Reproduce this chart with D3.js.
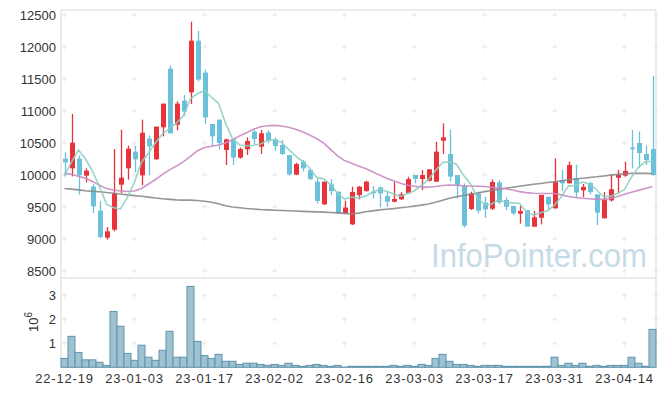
<!DOCTYPE html>
<html><head><meta charset="utf-8">
<script src="https://cdn.jsdelivr.net/npm/d3@7"></script>
<style>body{margin:0;background:#fff}svg{display:block}</style>
</head><body><svg id="c" width="665" height="396"></svg>
<script>
const dates = ["22-12-19","22-12-20","22-12-21","22-12-22","22-12-23","22-12-26","22-12-27","22-12-28","22-12-29",
"23-01-02","23-01-03","23-01-04","23-01-05","23-01-06","23-01-09","23-01-10","23-01-11","23-01-12","23-01-13","23-01-16","23-01-17","23-01-18","23-01-19","23-01-20","23-01-25","23-01-26","23-01-27","23-01-30","23-01-31",
"23-02-01","23-02-02","23-02-03","23-02-06","23-02-07","23-02-08","23-02-09","23-02-10","23-02-13","23-02-14","23-02-15","23-02-16","23-02-17","23-02-20","23-02-21","23-02-22","23-02-23","23-02-24","23-02-27","23-02-28",
"23-03-02","23-03-03","23-03-06","23-03-07","23-03-08","23-03-09","23-03-10","23-03-13","23-03-14","23-03-15","23-03-16","23-03-17","23-03-20","23-03-21","23-03-22","23-03-23","23-03-24","23-03-27","23-03-28","23-03-29","23-03-30","23-03-31",
"23-04-03","23-04-04","23-04-05","23-04-06","23-04-07","23-04-10","23-04-11","23-04-12","23-04-13","23-04-14","23-04-17","23-04-18","23-04-19","23-04-20"];

const openP = [10255,10104,10255,9990,9818,9443,9021,9146,9849,10104,
10365,9995,10568,10245,10745,11661,10786,11161,11292,12099,
11599,10797,10865,10391,10557,10271,10401,10677,10443,10667,
10557,10469,10312,10005,10208,10078,9896,9542,9854,9740,
9401,9229,9687,9750,9740,9807,9672,9583,9620,9714,
10000,9937,9911,9896,10536,10328,10000,9828,9469,9714,
9568,9474,9885,9609,9516,9396,9453,9193,9333,9661,
9479,9922,9870,9948,9760,9875,9698,9323,9604,9958,
9990,10430,10500,10328,10406];

const highP = [10354,10953,10307,10104,9859,9594,9188,10406,10708,10458,
10458,10864,10615,10760,11115,11708,11151,11250,12396,12250,
11646,10797,10865,10568,10578,10432,10589,10700,10703,10700,
10589,10547,10312,10193,10234,10089,9948,9896,9937,9740,
9599,9818,9828,9911,9828,9818,9740,9891,9734,9974,
10000,10078,10089,10521,10807,10710,10000,9870,9740,9740,
9661,9932,9922,9651,9516,9516,9453,9437,9688,9661,
10260,10078,10210,10160,9860,9896,9698,9735,10010,10078,
10208,10703,10680,10460,11547];

const lowP = [9979,9979,9693,9885,9406,9010,8990,9120,9719,9927,
10042,9839,9995,10240,10604,10651,10698,10917,11110,11463,
10797,10458,10396,10156,10156,10255,10312,10484,10328,10495,
10380,10312,9990,10000,10052,9922,9557,9531,9687,9401,
9401,9219,9620,9740,9635,9495,9505,9573,9609,9714,
9870,9766,9900,9896,10328,9896,9635,9182,9453,9401,
9333,9453,9547,9453,9375,9240,9193,9193,9229,9445,
9479,9750,9870,9650,9655,9698,9219,9323,9583,9714,
9974,10104,10115,10156,9990];

const closeP = [10198,10505,9995,10068,9510,9031,9120,9714,9958,10411,
10245,10661,10448,10755,11115,10651,11115,10990,12099,11490,
10901,10604,10500,10557,10271,10406,10531,10562,10651,10547,
10453,10328,10010,10172,10104,9937,9594,9896,9750,9401,
9490,9734,9818,9896,9714,9714,9583,9625,9698,9937,
9937,10000,10089,10365,10589,9974,9844,9208,9714,9443,
9464,9891,9573,9505,9401,9437,9193,9339,9688,9542,
9891,9870,10156,9727,9815,9735,9411,9615,9778,10000,
10063,10404,10344,10234,10000];

// volume in millions of shares
const volume = [0.37,1.29,0.62,0.31,0.31,0.21,0.08,2.33,1.71,0.58,
0.29,0.92,0.42,0.29,0.71,1.50,0.42,0.42,3.37,1.08,
0.49,0.37,0.54,0.25,0.25,0.12,0.17,0.17,0.12,0.08,
0.12,0.08,0.17,0.08,0.04,0.08,0.12,0.08,0.04,0.08,
0.01,0.04,0.04,0.04,0.04,0.04,0.04,0.08,0.04,0.08,
0.04,0.12,0.08,0.37,0.54,0.25,0.12,0.12,0.08,0.04,
0.08,0.08,0.08,0.04,0.04,0.04,0.04,0.04,0.04,0.04,
0.42,0.08,0.17,0.08,0.17,0.04,0.08,0.04,0.08,0.08,
0.08,0.42,0.17,0.04,1.58];

const ma5 = [9990,10200,10390,10250,10060,9820,9545,9490,9470,9650,
9890,10200,10345,10505,10645,10725,10815,10925,11195,11270,
11320,11215,11120,10810,10565,10470,10455,10465,10485,10540,
10550,10510,10400,10300,10215,10110,9965,9940,9855,9715,
9625,9655,9640,9670,9730,9775,9745,9705,9665,9710,
9755,9840,9930,10065,10195,10205,10170,9995,9865,9640,
9535,9545,9615,9575,9565,9560,9420,9375,9410,9440,
9530,9665,9830,9835,9890,9860,9770,9660,9670,9710,
9775,9970,10120,10210,10210];

const ma20 = [10025,10010,9980,9950,9900,9840,9790,9765,9750,9745,
9750,9790,9860,9930,10010,10080,10140,10210,10290,10380,
10430,10450,10470,10500,10550,10610,10660,10715,10755,10770,
10775,10765,10745,10715,10675,10625,10570,10500,10400,10300,
10225,10185,10140,10100,10050,10000,9950,9910,9870,9840,
9825,9810,9810,9820,9835,9845,9840,9830,9828,9825,
9820,9810,9795,9785,9765,9740,9725,9715,9712,9712,
9710,9690,9665,9648,9638,9628,9620,9620,9635,9665,
9700,9730,9760,9790,9820];

const ma60 = [9790,9780,9768,9755,9745,9738,9728,9715,9703,9690,
9678,9668,9655,9640,9628,9620,9612,9608,9608,9602,
9590,9575,9550,9520,9500,9488,9476,9468,9460,9455,
9450,9446,9442,9438,9432,9428,9424,9420,9415,9408,
9400,9392,9405,9425,9440,9455,9465,9475,9488,9500,
9515,9530,9548,9575,9605,9638,9660,9680,9700,9720,
9740,9758,9775,9792,9808,9825,9840,9855,9868,9882,
9895,9910,9925,9938,9950,9962,9972,9985,9998,10010,
10020,10026,10028,10025,10020];

const xTickLabels = ["22-12-19","23-01-03","23-01-17","23-02-02","23-02-16","23-03-03","23-03-17","23-03-31","23-04-14"];
const priceTicks = [8500,9000,9500,10000,10500,11000,11500,12000,12500];
const volTicks = [1,2,3];

const svg = d3.select("#c");
const L=61, R=656, T=10, M=278, B=367.3;
const FONT = "'Liberation Sans', Arial, sans-serif";

const x = d3.scaleBand().domain(dates).range([L,R]).padding(0);
const y = d3.scaleLinear().domain([8391,12578]).range([M,T]);
const yv = d3.scaleLinear().domain([0,3.72]).range([B,M]);
const cx = d => x(d) + x.bandwidth()/2;

// frame
const frame = svg.append("g").attr("stroke","#e5e5e5").attr("stroke-width",1.5);
frame.append("line").attr("x1",L).attr("x2",R).attr("y1",T).attr("y2",T);
frame.append("line").attr("x1",L).attr("x2",L).attr("y1",T).attr("y2",B);
frame.append("line").attr("x1",R).attr("x2",R).attr("y1",T).attr("y2",B);
frame.append("line").attr("x1",L).attr("x2",R).attr("y1",M).attr("y2",M);

// grid crosses
const gx = xTickLabels.map(cx).concat([R]);
const gy = priceTicks.map(y).concat(volTicks.map(yv));
const cross = svg.append("g").attr("stroke","#ebebeb").attr("stroke-width",1.2);
gx.forEach(px => gy.forEach(py => {
  cross.append("line").attr("x1",px-2.5).attr("x2",px+2.5).attr("y1",py).attr("y2",py);
  cross.append("line").attr("x1",px).attr("x2",px).attr("y1",py-2.5).attr("y2",py+2.5);
}));

// watermark
svg.append("text").attr("x",431).attr("y",267)
  .attr("font-family",FONT).attr("font-size",33)
  .attr("textLength",216).attr("lengthAdjust","spacingAndGlyphs")
  .attr("fill","#c6dbe6").text("InfoPointer.com");

// volume bars
svg.append("g").selectAll("rect").data(dates).join("rect")
  .attr("x",d=>x(d)).attr("width",x.bandwidth())
  .attr("y",(d,i)=>yv(volume[i])).attr("height",(d,i)=>B-yv(volume[i]))
  .attr("fill","#9ec2d2").attr("stroke","#5f93aa").attr("stroke-width",1);

// candles
const UP="#e8333a", DOWN="#6cc1da";
const cg = svg.append("g");
dates.forEach((d,i)=>{
  const col = closeP[i] >= openP[i] ? UP : DOWN;
  const xc = Math.round(cx(d)) + 0.5;
  cg.append("line").attr("x1",xc).attr("x2",xc)
    .attr("y1",y(highP[i])).attr("y2",y(lowP[i]))
    .attr("stroke",col).attr("stroke-width",1.3);
  const yt = y(Math.max(openP[i],closeP[i])), yb = y(Math.min(openP[i],closeP[i]));
  cg.append("rect").attr("x",xc-2.5).attr("width",5)
    .attr("y",yt).attr("height",Math.max(1.5,yb-yt)).attr("fill",col);
});

// moving averages
const line = arr => d3.line().x((d,i)=>cx(dates[i])).y(d=>y(d))(arr);
[[ma60,"#8a8a8a"],[ma20,"#c98bc3"],[ma5,"#8ecfc3"]].forEach(([arr,col])=>{
  svg.append("path").attr("d",line(arr)).attr("fill","none")
    .attr("stroke",col).attr("stroke-width",1.6).attr("stroke-opacity",0.9);
});

// axes
function styleAxis(g){
  g.select(".domain").remove();
  g.selectAll("text").attr("font-family",FONT).attr("font-size",13).attr("fill","#333");
}
svg.append("g").attr("transform",`translate(${L},0)`)
  .call(d3.axisLeft(y).tickValues(priceTicks).tickFormat(d3.format("d")).tickSize(0).tickPadding(5))
  .call(styleAxis);
svg.append("g").attr("transform",`translate(${L},0)`)
  .call(d3.axisLeft(yv).tickValues(volTicks).tickFormat(d3.format("d")).tickSize(0).tickPadding(5))
  .call(styleAxis);
svg.append("g").attr("transform",`translate(0,${B})`)
  .call(d3.axisBottom(x).tickValues(xTickLabels).tickSize(0).tickPadding(6))
  .call(styleAxis)
  .selectAll("text").attr("letter-spacing","0.8px");

// unit label 10^6
const ul = svg.append("text").attr("transform","translate(38,322) rotate(-90)")
  .attr("text-anchor","middle").attr("font-family",FONT).attr("font-size",13).attr("fill","#333");
ul.append("tspan").text("10");
ul.append("tspan").attr("dy",-6).attr("font-size",10).text("6");
</script></body></html>
